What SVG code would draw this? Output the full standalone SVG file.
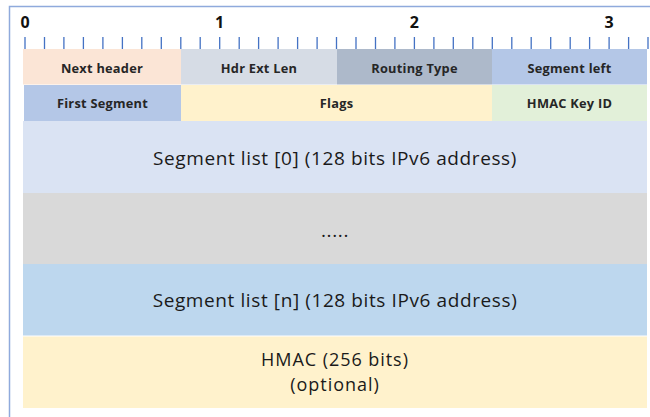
<svg xmlns="http://www.w3.org/2000/svg" width="650" height="417" viewBox="0 0 650 417">
  <defs>
    <style>
      .frame { fill: none; stroke: #8FAADC; stroke-width: 1.5; }
      .tick { stroke: #4472C4; stroke-width: 1.3; }
      .num { font-family: "Open Sans", Lato, sans-serif; font-weight: 700; font-size: 16px; fill: #111; text-anchor: middle; }
      .lbl { font-family: "Open Sans", Lato, sans-serif; font-weight: 700; font-size: 12.8px; letter-spacing: 0.25px; fill: #262626; text-anchor: middle; }
      .big { font-family: "Open Sans", Lato, sans-serif; font-weight: 500; font-size: 19px; letter-spacing: 0.6px; fill: #1a1a1a; text-anchor: middle; }
      .big2 { font-family: "Open Sans", Lato, sans-serif; font-weight: 500; font-size: 18px; letter-spacing: 0.95px; fill: #1a1a1a; text-anchor: middle; }
    </style>
  </defs>

  <!-- outer frame (left and top edges) -->
  <path class="frame" d="M9.5,417 V6.5 H650"/>

  <!-- bit ruler -->
  <g id="ruler">
    <text class="num" x="25" y="28">0</text>
    <text class="num" x="219.7" y="28">1</text>
    <text class="num" x="414.4" y="28">2</text>
    <text class="num" x="609" y="28">3</text>
    <path class="tick" d="M25,37V49 M44.5,37V49 M63.9,37V49 M83.4,37V49 M102.9,37V49 M122.4,37V49 M141.8,37V49 M161.3,37V49 M180.8,37V49 M200.2,37V49 M219.7,37V49 M239.2,37V49 M258.6,37V49 M278.1,37V49 M297.6,37V49 M317.1,37V49 M336.5,37V49 M356,37V49 M375.5,37V49 M394.9,37V49 M414.4,37V49 M433.9,37V49 M453.3,37V49 M472.8,37V49 M492.3,37V49 M511.8,37V49 M531.2,37V49 M550.7,37V49 M570.2,37V49 M589.6,37V49 M609.1,37V49 M628.6,37V49 M648,37V49"/>
  </g>

  <!-- first word -->
  <g id="next-header">
    <rect x="23" y="49" width="158" height="35.5" fill="#FBE5D6"/>
    <text class="lbl" x="102" y="72.5">Next header</text>
  </g>
  <g id="hdr-ext-len">
    <rect x="181" y="49" width="156" height="35.5" fill="#D6DCE5"/>
    <text class="lbl" x="259" y="72.5">Hdr Ext Len</text>
  </g>
  <g id="routing-type">
    <rect x="337" y="49" width="155" height="35.5" fill="#ADB9CA"/>
    <text class="lbl" x="414.5" y="72.5">Routing Type</text>
  </g>
  <g id="segment-left">
    <rect x="492" y="49" width="155" height="35.5" fill="#B4C7E7"/>
    <text class="lbl" x="569.5" y="72.5">Segment left</text>
  </g>

  <!-- second word -->
  <g id="first-segment">
    <rect x="24" y="85" width="157" height="36" fill="#B4C7E7"/>
    <text class="lbl" x="102.5" y="107.5">First Segment</text>
  </g>
  <g id="flags">
    <rect x="181" y="85" width="311" height="36" fill="#FFF2CC"/>
    <text class="lbl" x="336.5" y="107.5">Flags</text>
  </g>
  <g id="hmac-key-id">
    <rect x="492" y="85" width="155" height="36" fill="#E2F0D9"/>
    <text class="lbl" x="569.5" y="107.5">HMAC Key ID</text>
  </g>

  <!-- variable-length part -->
  <g id="segment-list-0">
    <rect x="23" y="121" width="624" height="72" fill="#DAE3F3"/>
    <text class="big" x="335" y="164.5">Segment list [0] (128 bits IPv6 address)</text>
  </g>
  <g id="segment-list-gap">
    <rect x="23" y="193" width="624" height="71" fill="#D9D9D9"/>
    <text class="big" x="335" y="237">.....</text>
  </g>
  <g id="segment-list-n">
    <rect x="23" y="264" width="624" height="71.5" fill="#BDD7EE"/>
    <text class="big" x="335" y="307">Segment list [n] (128 bits IPv6 address)</text>
  </g>
  <g id="hmac">
    <rect x="23" y="336.5" width="624" height="71.5" fill="#FFF2CC"/>
    <text class="big2" x="335" y="366"><tspan x="335">HMAC (256 bits)</tspan><tspan x="335" dy="24.6">(optional)</tspan></text>
  </g>

  <g id="connectors"/>
</svg>
